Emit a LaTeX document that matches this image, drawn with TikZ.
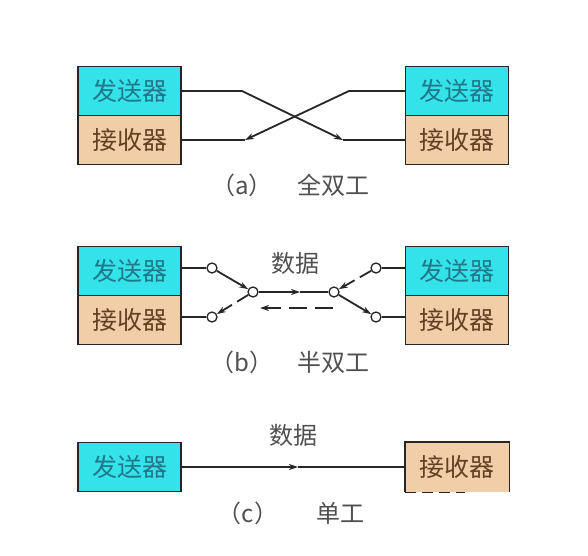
\documentclass[tikz,border=0pt]{standalone}
\usepackage{fontspec}
\newfontfamily\cjk{Noto Sans CJK SC}
\usetikzlibrary{calc, arrows.meta}

\definecolor{sendcol}{RGB}{52,226,234}
\definecolor{recvcol}{RGB}{242,206,168}
\definecolor{sendtxt}{RGB}{32,120,136}
\definecolor{recvtxt}{RGB}{98,64,34}
\definecolor{captxt}{RGB}{80,80,80}

\tikzset{
	unitbox/.style={draw=black!85, line width=1.7pt, minimum width=103pt, minimum height=49pt, inner sep=0pt, font=\cjk\fontsize{25}{25}\selectfont},
	sendbox/.style={unitbox, fill=sendcol, text=sendtxt},
	recvbox/.style={unitbox, fill=recvcol, text=recvtxt},
	port/.style={circle, draw=black!85, line width=1.3pt, fill=white, minimum size=10pt, inner sep=0pt},
	wire/.style={line width=1.8pt, draw=black!85},
	flow/.style={wire, -{Stealth[length=9pt, width=6pt]}},
	backflow/.style={flow, dash pattern=on 13pt off 6pt},
	caption/.style={text=captxt, font=\cjk\fontsize{24}{24}\selectfont},
	datalabel/.style={text=captxt, font=\cjk\fontsize{24}{24}\selectfont}
}

\begin{document}
\begin{tikzpicture}[x=1pt, y=-1pt]
		\fill[white] (0,0) rectangle (588,555);
		\useasboundingbox (0,0) rectangle (588,555);

		% (a)
		\node[sendbox] (sendAL) at (129.5,91) {发送器};
		\node[recvbox] (recvAL) at (129.5,140) {接收器};
		\node[sendbox] (sendAR) at (457,91) {发送器};
		\node[recvbox] (recvAR) at (457,140) {接收器};

		\coordinate (kAL) at (242,91);
		\coordinate (tAR) at (343,140);
		\coordinate (kAR) at (349,91);
		\coordinate (tAL) at (245,140);

		\draw[wire] (sendAL.east) -- (kAL);
		\draw[flow] (kAL) -- (tAR);
		\draw[wire] (tAR) -- (recvAR.west);
		\draw[wire] (sendAR.west) -- (kAR);
		\draw[flow] (kAR) -- (tAL);
		\draw[wire] (tAL) -- (recvAL.east);

		\node[caption] (capA) at (242,185) {（a）};
		\node[caption] (capAt) at (333,185) {全双工};

		% (b)
		\node[sendbox] (sendBL) at (129.5,271) {发送器};
		\node[recvbox] (recvBL) at (129.5,320) {接收器};
		\node[sendbox] (sendBR) at (457,271) {发送器};
		\node[recvbox] (recvBR) at (457,320) {接收器};

		\node[port] (pUL) at (212,268) {};
		\node[port] (pLL) at (212,317) {};
		\node[port] (pCL) at (253,292) {};
		\node[port] (pCR) at (334,292) {};
		\node[port] (pUR) at (376,268) {};
		\node[port] (pLR) at (376,317) {};
		\coordinate (mB) at (300,292);
		\coordinate (dR) at (333,308);
		\coordinate (dL) at (260,308);

		\draw[wire] (pUL) -- (pUL -| sendBL.east);
		\draw[wire] (pLL) -- (pLL -| recvBL.east);
		\draw[wire] (pUR) -- (pUR -| sendBR.west);
		\draw[wire] (pLR) -- (pLR -| recvBR.west);

		\draw[flow] (pUL) -- (pCL);
		\draw[flow] (pCL) -- (mB);
		\draw[wire] (mB) -- (pCR);
		\draw[flow] (pCR) -- (pLR);

		\draw[backflow] (pUR) -- (pCR);
		\draw[backflow] (pCL) -- (pLL);
		\draw[flow, dash pattern=on 18pt off 8pt] (dR) -- (dL);

		\node[datalabel] (dataB) at (295,263) {数据};
		\node[caption] (capB) at (242,362) {（b）};
		\node[caption] (capBt) at (333,362) {半双工};

		% (c)
		\node[sendbox] (sendC) at (129.5,467) {发送器};
		\node[recvbox, draw=none] (recvC) at (457,467) {接收器};
		\draw[line width=1.7pt, black!85] (recvC.south west) -- (recvC.north west) -- (recvC.north east) -- (recvC.south east);
		\draw[line width=1.7pt, black!85, dash pattern=on 11pt off 6pt] (recvC.south west) -- ++(60,0);

		\coordinate (mC) at (298,467);
		\draw[flow] (sendC.east) -- (mC);
		\draw[wire] (mC) -- (recvC.west);

		\node[datalabel] (dataC) at (293,435) {数据};
		\node[caption] (capC) at (248,513) {（c）};
		\node[caption] (capCt) at (340,513) {单工};
\end{tikzpicture}
\end{document}
